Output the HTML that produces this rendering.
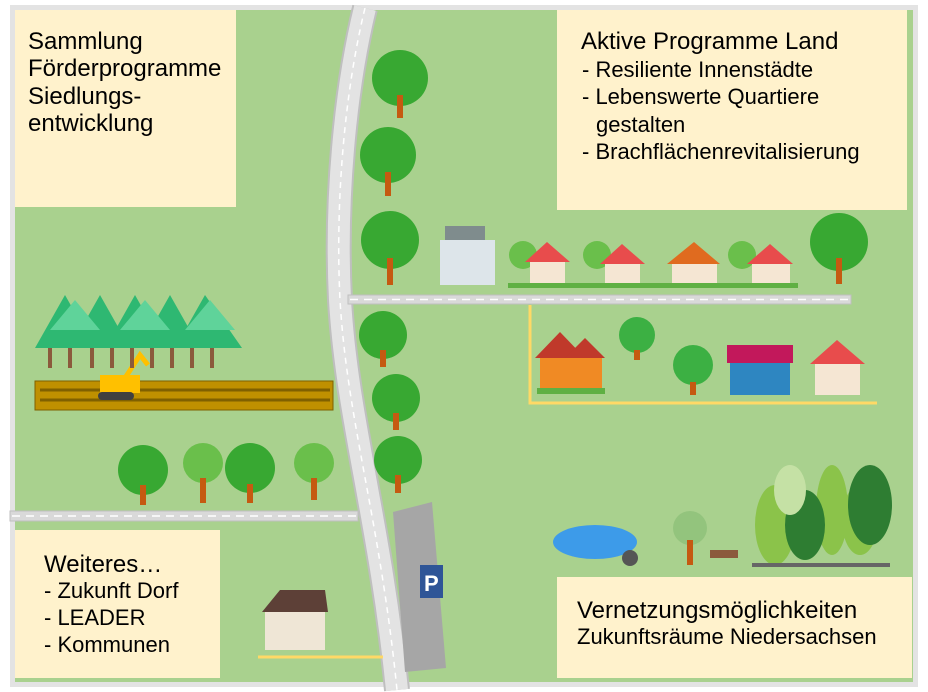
<!DOCTYPE html>
<html><head><meta charset="utf-8"><style>
body{margin:0;width:928px;height:692px;background:#fff;overflow:hidden}
svg{display:block}
text{font-family:"Liberation Sans",sans-serif;fill:#000}
</style></head><body>
<svg width="928" height="692" viewBox="0 0 928 692">
<rect x="10" y="5" width="908" height="682" fill="#e3e3e3"/>
<rect x="15" y="10" width="898" height="672" fill="#a9d18e"/>
<!-- roads -->
<path d="M365 8 C345 90 335 200 340 300 C347 420 380 520 397 690" fill="none" stroke="#bfbfbf" stroke-width="26"/>
<path d="M365 8 C345 90 335 200 340 300 C347 420 380 520 397 690" fill="none" stroke="#e3e3e3" stroke-width="22"/>
<path d="M365 8 C345 90 335 200 340 300 C347 420 380 520 397 690" fill="none" stroke="#fff" stroke-width="1.5" stroke-dasharray="6 5"/>
<rect x="348" y="295" width="503" height="9" fill="#d9d9d9" stroke="#bfbfbf"/>
<line x1="350" y1="299.5" x2="850" y2="299.5" stroke="#fff" stroke-width="1.5" stroke-dasharray="8 6"/>
<rect x="10" y="511" width="348" height="10" fill="#d9d9d9" stroke="#bfbfbf"/>
<line x1="12" y1="516" x2="356" y2="516" stroke="#fff" stroke-width="1.5" stroke-dasharray="8 6"/>
<polygon points="393,512 432,502 446,668 405,672" fill="#a6a6a6"/>
<rect x="420" y="565" width="23" height="33" fill="#2f5597"/>
<text x="424" y="591" font-size="22" font-weight="bold" style="fill:#fff">P</text>
<!-- yellow lines -->
<polyline points="530,305 530,403 877,403" fill="none" stroke="#ffd966" stroke-width="3"/>
<line x1="258" y1="657" x2="383" y2="657" stroke="#ffd966" stroke-width="3"/>
<!-- field -->
<rect x="35" y="381" width="298" height="29" fill="#bf9000" stroke="#7f6000"/>
<path d="M40 390 H330 M40 400 H330" stroke="#7f6000" stroke-width="3"/>
<rect x="100" y="375" width="40" height="18" fill="#ffc000"/>
<path d="M125 378 L140 355 L148 365" stroke="#ffc000" stroke-width="5" fill="none"/>
<rect x="98" y="392" width="36" height="8" rx="4" fill="#404040"/>
<!-- forest -->
<g fill="#2eb872">
<path d="M35 348 L65 295 L95 348Z M70 348 L100 295 L130 348Z M105 348 L135 295 L165 348Z M140 348 L170 295 L200 348Z M175 348 L205 295 L242 348Z"/>
</g>
<g fill="#5fd39a"><path d="M50 330 L75 300 L100 330Z M120 330 L145 300 L170 330Z M185 330 L210 300 L235 330Z"/></g>
<g stroke="#8b5a3c" stroke-width="4"><path d="M50 348V368 M70 348V368 M92 348V368 M112 348V368 M132 348V368 M152 348V368 M172 348V368 M192 348V368 M212 348V368"/></g>
<!-- trees -->
<g fill="#38a832">
<circle cx="400" cy="78" r="28"/><circle cx="388" cy="155" r="28"/><circle cx="390" cy="240" r="29"/>
<circle cx="383" cy="335" r="24"/><circle cx="396" cy="398" r="24"/><circle cx="398" cy="460" r="24"/>
<circle cx="839" cy="242" r="29"/><circle cx="143" cy="470" r="25"/><circle cx="250" cy="468" r="25"/>
<circle cx="203" cy="463" r="20" fill="#6abf4b"/><circle cx="314" cy="463" r="20" fill="#6abf4b"/>
<circle cx="523" cy="255" r="14" fill="#6abf4b"/><circle cx="597" cy="255" r="14" fill="#6abf4b"/><circle cx="742" cy="255" r="14" fill="#6abf4b"/>
<circle cx="637" cy="335" r="18" fill="#3cb043"/><circle cx="693" cy="365" r="20" fill="#3cb043"/>
<circle cx="690" cy="528" r="17" fill="#93c47d"/>
</g>
<g stroke="#c55a11" stroke-width="6">
<path d="M400 95V118 M388 172V196 M390 258V285 M383 350V367 M396 413V430 M398 475V493 M839 258V284 M143 485V505 M250 484V503 M203 478V503 M314 478V500 M637 350V360 M693 382V395 M690 540V565"/>
</g>
<!-- houses -->
<g>
<rect x="440" y="240" width="55" height="45" fill="#dde5ea"/><rect x="445" y="226" width="40" height="14" fill="#7f8c8d"/>
<rect x="530" y="260" width="35" height="25" fill="#f5e6d3"/><polygon points="525,262 547,242 570,262" fill="#e84c4c"/>
<rect x="605" y="262" width="35" height="25" fill="#f5e6d3"/><polygon points="600,264 622,244 645,264" fill="#e84c4c"/>
<rect x="672" y="262" width="45" height="25" fill="#f5e6d3"/><polygon points="667,264 694,242 720,264" fill="#e06b1f"/>
<rect x="752" y="262" width="38" height="25" fill="#f5e6d3"/><polygon points="747,264 770,244 793,264" fill="#e84c4c"/>
<rect x="508" y="283" width="290" height="5" fill="#5fb043"/>
<rect x="540" y="355" width="62" height="35" fill="#f08a24"/><polygon points="535,358 560,332 585,358" fill="#c0392b"/><polygon points="565,358 585,338 605,358" fill="#c0392b"/>
<rect x="537" y="388" width="68" height="6" fill="#5fb043"/>
<rect x="730" y="360" width="60" height="35" fill="#2e86c1"/><rect x="727" y="345" width="66" height="18" fill="#c2185b"/>
<rect x="815" y="362" width="45" height="33" fill="#f5e6d3"/><polygon points="810,364 837,340 865,364" fill="#e84c4c"/>
<rect x="265" y="610" width="60" height="40" fill="#efe6d6"/><polygon points="262,612 280,590 325,590 328,612" fill="#5d4037"/>
<ellipse cx="595" cy="542" rx="42" ry="17" fill="#3d9be9"/><circle cx="630" cy="558" r="8" fill="#555"/>
<rect x="710" y="550" width="28" height="8" fill="#8b5a3c"/>
</g>
<!-- right forest -->
<g fill="#8bc34a"><ellipse cx="775" cy="525" rx="20" ry="40"/><ellipse cx="832" cy="510" rx="16" ry="45"/><ellipse cx="860" cy="520" rx="18" ry="35"/></g>
<g fill="#2e7d32"><ellipse cx="870" cy="505" rx="22" ry="40"/><ellipse cx="805" cy="525" rx="20" ry="35"/></g>
<g fill="#c5e1a5"><ellipse cx="790" cy="490" rx="16" ry="25"/></g>
<rect x="752" y="563" width="138" height="4" fill="#666"/>
<!-- boxes -->
<rect x="15" y="10" width="221" height="197" fill="#fff2cc"/>
<text font-size="24"><tspan x="28" y="49">Sammlung</tspan><tspan x="28" y="76">Förderprogramme</tspan><tspan x="28" y="104">Siedlungs-</tspan><tspan x="28" y="131">entwicklung</tspan></text>
<rect x="557" y="10" width="350" height="200" fill="#fff2cc"/>
<text font-size="24" x="581" y="49">Aktive Programme Land</text>
<text font-size="22"><tspan x="582" y="77">- Resiliente Innenstädte</tspan><tspan x="582" y="104">- Lebenswerte Quartiere</tspan><tspan x="596" y="132">gestalten</tspan><tspan x="582" y="159">- Brachflächenrevitalisierung</tspan></text>
<rect x="15" y="530" width="205" height="148" fill="#fff2cc"/>
<text font-size="24" x="44" y="572">Weiteres…</text>
<text font-size="22"><tspan x="44" y="598">- Zukunft Dorf</tspan><tspan x="44" y="625">- LEADER</tspan><tspan x="44" y="652">- Kommunen</tspan></text>
<rect x="557" y="577" width="355" height="101" fill="#fff2cc"/>
<text font-size="24" x="577" y="618">Vernetzungsmöglichkeiten</text>
<text font-size="22" x="577" y="644">Zukunftsräume  Niedersachsen</text>
</svg>
</body></html>
